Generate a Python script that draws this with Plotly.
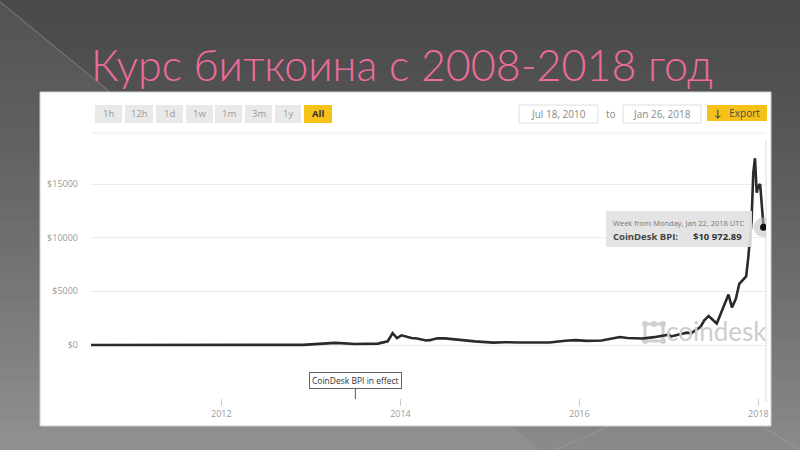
import plotly.graph_objects as go

# ---------------- data ----------------
dates = [
    "2010-07-18", "2011-06-08", "2011-12-01", "2012-06-01", "2012-12-01",
    "2013-04-09", "2013-07-01", "2013-10-01", "2013-11-10", "2013-11-30",
    "2013-12-18", "2014-01-05", "2014-02-15", "2014-03-10", "2014-04-15",
    "2014-05-01", "2014-06-01", "2014-07-01", "2014-08-15", "2014-10-01",
    "2014-11-01", "2015-01-15", "2015-03-01", "2015-05-01", "2015-07-01",
    "2015-09-01", "2015-11-05", "2015-12-15", "2016-02-01", "2016-04-01",
    "2016-06-15", "2016-07-15", "2016-09-15", "2016-11-01", "2016-12-31",
    "2017-01-10", "2017-02-15", "2017-03-15", "2017-04-01", "2017-05-10",
    "2017-05-25", "2017-06-12", "2017-07-15", "2017-08-05", "2017-08-20",
    "2017-09-01", "2017-09-15", "2017-10-01", "2017-10-15", "2017-10-29",
    "2017-11-12", "2017-11-20", "2017-11-27", "2017-12-04", "2017-12-11",
    "2017-12-18", "2017-12-25", "2018-01-01", "2018-01-08", "2018-01-15",
    "2018-01-22",
]
prices = [
    0.06, 30, 3, 6, 13,
    200, 90, 130, 350, 1100,
    650, 900, 650, 600, 420,
    450, 620, 620, 500, 380,
    340, 220, 260, 235, 260,
    230, 400, 450, 380, 420,
    750, 650, 610, 730, 960,
    800, 1000, 1150, 1080, 1700,
    2300, 2700, 2000, 3200, 4100,
    4700, 3500, 4300, 5700, 6100,
    6400, 8000, 9800, 11500, 16000,
    17400, 14200, 14800, 15000, 12500,
    10972.89,
]
y_ticks = [0, 5000, 10000, 15000]
y_tick_labels = ["$0", "$5000", "$10000", "$15000"]
x_ticks = ["2012-01-01", "2014-01-01", "2016-01-01", "2018-01-01"]
x_tick_labels = ["2012", "2014", "2016", "2018"]
range_buttons = ["1h", "12h", "1d", "1w", "1m", "3m", "1y", "All"]
title_text = "Курс биткоина с 2008-2018 год"
bpi_label = "CoinDesk BPI in effect"
bpi_start = "2013-07-01"
tooltip_head = "Week from Monday, Jan 22, 2018 UTC"
tooltip_name = "CoinDesk BPI:"
tooltip_value = "$10 972.89"
date_from = "Jul 18, 2010"
date_to = "Jan 26, 2018"

# ---------------- layout geometry ----------------
W, H = 800, 450
L, R, T, B = 91, 766, 150, 398


def px(x):
    return (x - L) / (R - L)


def py(y):
    return (B - y) / (B - T)


FONT = "Open Sans, Lato, sans-serif"

fig = go.Figure()
fig.add_trace(go.Scatter(
    x=dates, y=prices, mode="lines",
    line=dict(color="#2a2a2a", width=2.6),
    hoverinfo="skip", showlegend=False,
))
fig.add_trace(go.Scatter(
    x=[dates[-1]], y=[prices[-1]], mode="markers",
    marker=dict(size=20, color="rgba(190,190,190,0.55)"),
    hoverinfo="skip", showlegend=False,
))
fig.add_trace(go.Scatter(
    x=[dates[-1]], y=[prices[-1]], mode="markers",
    marker=dict(size=7, color="#111111"),
    hoverinfo="skip", showlegend=False,
))

shapes = []
annotations = []

# slide background: smooth vertical gradient from #4a4a4a to #8a8a8a
n = 45
for i in range(n):
    v = int(round(0x4a + (0x8a - 0x4a) * (i / (n - 1)) ** 1.3))
    c = f"rgb({v},{v},{v})"
    shapes.append(dict(type="rect", xref="paper", yref="paper", layer="below",
                       x0=px(0), x1=px(W), y0=py(H * i / n), y1=py(H * (i + 1) / n + 1),
                       fillcolor=c, line=dict(width=0)))
shapes.append(dict(type="path", xref="paper", yref="paper", layer="below",
                   path=f"M {px(0)},{py(0)} L {px(540)},{py(450)} L {px(0)},{py(450)} Z",
                   fillcolor="rgba(255,255,255,0.06)", line=dict(width=0)))
shapes.append(dict(type="line", xref="paper", yref="paper", layer="below",
                   x0=px(0), y0=py(2), x1=px(110), y1=py(92),
                   line=dict(color="rgba(150,150,150,0.6)", width=1)))
shapes.append(dict(type="line", xref="paper", yref="paper", layer="below",
                   x0=px(555), y0=py(450), x1=px(610), y1=py(426),
                   line=dict(color="rgba(170,170,170,0.5)", width=1)))
shapes.append(dict(type="line", xref="paper", yref="paper", layer="below",
                   x0=px(762), y0=py(426), x1=px(800), y1=py(450),
                   line=dict(color="rgba(170,170,170,0.5)", width=1)))
# white panel
shapes.append(dict(type="rect", xref="paper", yref="paper", layer="below",
                   x0=px(40), x1=px(771), y0=py(92), y1=py(426),
                   fillcolor="white", line=dict(color="#cfcfcf", width=1)))
shapes.append(dict(type="line", xref="paper", yref="paper", layer="below",
                   x0=px(92), x1=px(766), y0=py(133), y1=py(133),
                   line=dict(color="#ececec", width=1)))
shapes.append(dict(type="line", xref="paper", yref="paper", layer="below",
                   x0=px(766), x1=px(766), y0=py(140), y1=py(402),
                   line=dict(color="#dcdcdc", width=1)))

# range buttons
bx = [95, 125, 156, 186, 215, 245, 275, 304]
bw = [27, 28, 27, 27, 27, 27, 26, 28]
for lab, x0, w in zip(range_buttons, bx, bw):
    sel = lab == "All"
    shapes.append(dict(type="rect", xref="paper", yref="paper", layer="below",
                       x0=px(x0), x1=px(x0 + w), y0=py(105), y1=py(123),
                       fillcolor="#f6c219" if sel else "#e9e9e9", line=dict(width=0)))
    annotations.append(dict(xref="paper", yref="paper", x=px(x0 + w / 2), y=py(114),
                            text=f"<b>{lab}</b>" if sel else lab, showarrow=False,
                            font=dict(family=FONT, size=9.5, color="#333" if sel else "#9a9a9a"),
                            xanchor="center", yanchor="middle"))

for x0, x1, txt in [(519, 598, date_from), (623, 701, date_to)]:
    shapes.append(dict(type="rect", xref="paper", yref="paper", layer="below",
                       x0=px(x0), x1=px(x1), y0=py(105), y1=py(123),
                       fillcolor="white", line=dict(color="#dedede", width=1)))
    annotations.append(dict(xref="paper", yref="paper", x=px((x0 + x1) / 2), y=py(114),
                            text=txt, showarrow=False,
                            font=dict(family=FONT, size=10, color="#8a8a8a"),
                            xanchor="center", yanchor="middle"))
annotations.append(dict(xref="paper", yref="paper", x=px(611), y=py(114), text="to",
                        showarrow=False, font=dict(family=FONT, size=10, color="#8a8a8a"),
                        xanchor="center", yanchor="middle"))
shapes.append(dict(type="rect", xref="paper", yref="paper", layer="below",
                   x0=px(707), x1=px(767), y0=py(105), y1=py(121),
                   fillcolor="#f6c219", line=dict(width=0)))
annotations.append(dict(xref="paper", yref="paper", x=px(737), y=py(113),
                        text="<b>↓</b>   Export", showarrow=False,
                        font=dict(family=FONT, size=10, color="#4a4a4a"),
                        xanchor="center", yanchor="middle"))

# title
annotations.append(dict(xref="paper", yref="paper", x=px(402), y=py(64), text=title_text,
                        showarrow=False, font=dict(family="Lato, DejaVu Sans, sans-serif",
                                                   size=43, color="#ef6b9c", weight=300),
                        xanchor="center", yanchor="middle"))

# coindesk watermark
annotations.append(dict(xref="paper", yref="paper", x=px(716), y=py(331), text="coindesk",
                        showarrow=False, font=dict(family="Lato, sans-serif", size=26,
                                                   color="#cdcdcd"),
                        xanchor="center", yanchor="middle"))
shapes.append(dict(type="rect", xref="paper", yref="paper", layer="below",
                   x0=px(645), x1=px(663), y0=py(324), y1=py(341),
                   fillcolor="rgba(0,0,0,0)", line=dict(color="#cfcfcf", width=3)))
for cx, cy in [(645, 324), (654, 324), (663, 324), (645, 341), (663, 341)]:
    shapes.append(dict(type="circle", xref="paper", yref="paper", layer="below",
                       x0=px(cx - 3), x1=px(cx + 3), y0=py(cy - 3), y1=py(cy + 3),
                       fillcolor="#cfcfcf", line=dict(width=0)))

# tooltip
shapes.append(dict(type="rect", xref="paper", yref="paper", layer="above",
                   x0=px(606), x1=px(752), y0=py(211), y1=py(247),
                   fillcolor="rgba(226,226,226,0.93)", line=dict(width=0)))
annotations.append(dict(xref="paper", yref="paper", x=px(611), y=py(223), text=tooltip_head,
                        showarrow=False, font=dict(family=FONT, size=7.5, color="#777"),
                        xanchor="left", yanchor="middle"))
annotations.append(dict(xref="paper", yref="paper", x=px(611), y=py(236),
                        text=f"<b>{tooltip_name}</b>", showarrow=False,
                        font=dict(family=FONT, size=9.5, color="#444"),
                        xanchor="left", yanchor="middle"))
annotations.append(dict(xref="paper", yref="paper", x=px(744), y=py(236),
                        text=f"<b>{tooltip_value}</b>", showarrow=False,
                        font=dict(family=FONT, size=9.5, color="#333"),
                        xanchor="right", yanchor="middle"))

# CoinDesk BPI in effect marker
annotations.append(dict(xref="x", yref="paper", x=bpi_start, y=py(380.5), text=bpi_label,
                        showarrow=False, font=dict(family=FONT, size=8.5, color="#333"),
                        bgcolor="white", bordercolor="#666", borderwidth=1, borderpad=2,
                        xanchor="center", yanchor="middle"))
shapes.append(dict(type="line", xref="x", yref="paper", x0=bpi_start, x1=bpi_start,
                   y0=py(389), y1=py(399), line=dict(color="#555", width=1)))

fig.update_layout(
    width=W, height=H,
    margin=dict(l=L, r=W - R, t=T, b=H - B, pad=0),
    paper_bgcolor="#4a4a4a", plot_bgcolor="rgba(0,0,0,0)",
    shapes=shapes, annotations=annotations, showlegend=False,
    xaxis=dict(type="date", range=["2010-07-18", "2018-02-01"],
               tickvals=x_ticks, ticktext=x_tick_labels,
               showgrid=False, zeroline=False, showline=False,
               ticks="outside", ticklen=7, tickcolor="#cccccc",
               tickfont=dict(family=FONT, size=9, color="#9a9a9a")),
    yaxis=dict(range=[-4938, 18168], tickvals=y_ticks, ticktext=y_tick_labels,
               showgrid=True, gridcolor="#ececec", zeroline=False,
               showline=False, ticklabelstandoff=12,
               tickfont=dict(family=FONT, size=9, color="#9a9a9a")),
)

fig.write_html("out.html", config={"displayModeBar": False},
               post_script="document.body.style.margin='0';")
